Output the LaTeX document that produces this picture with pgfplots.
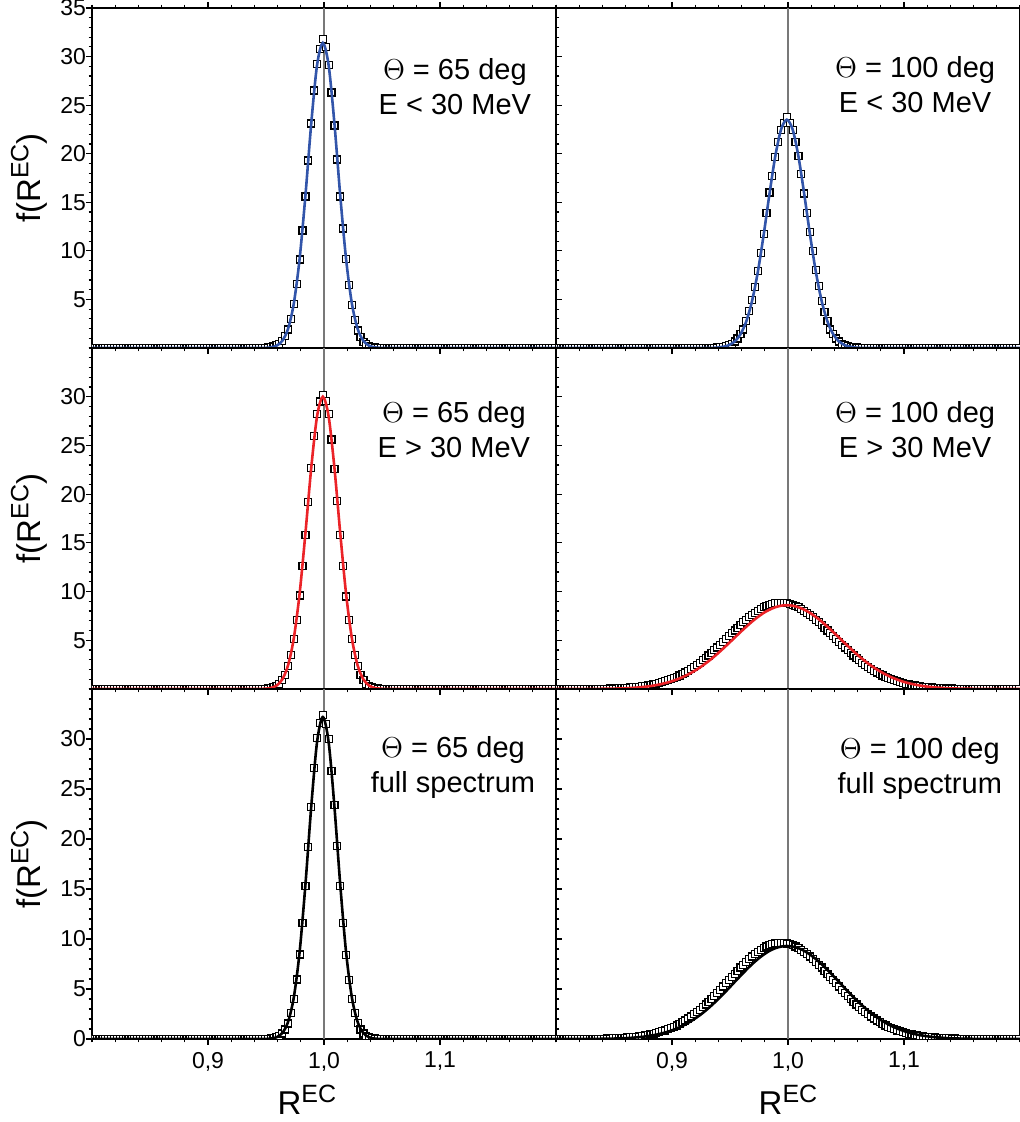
\documentclass[border=0pt]{standalone}
\usepackage{fontspec}
\setmainfont{Liberation Sans}
\usepackage{pgfplots}
\usepackage{pgfplotstable}
\pgfplotsset{compat=1.18}

\definecolor{fitblue}{RGB}{50,85,170}
\definecolor{fitred}{RGB}{235,35,40}
\definecolor{vline}{RGB}{120,120,120}

\newcommand{\REC}{R\raisebox{6.3pt}{\fontsize{12.5}{13}\selectfont EC}}

% histograms: bins of 0.0025, columns a..f = panels (65/100 deg) x (E<30, E>30, full)
\pgfplotstableread{
x a b c d e f
0.8015 0 0 0 0 0 0
0.8040 0 0 0 0 0 0
0.8065 0 0 0 0 0 0
0.8090 0 0 0 0 0 0
0.8115 0 0 0 0 0 0
0.8140 0 0 0 0 0 0
0.8165 0 0 0 0 0 0
0.8190 0 0 0 0 0 0
0.8215 0 0 0 0 0 0
0.8240 0 0 0 0 0 0
0.8265 0 0 0 0 0 0
0.8290 0 0 0 0 0 0
0.8315 0 0 0 0 0 0
0.8340 0 0 0 0.02 0 0.02
0.8365 0 0 0 0.02 0 0.02
0.8390 0 0 0 0.03 0 0.03
0.8415 0 0 0 0.03 0 0.03
0.8440 0 0 0 0.04 0 0.04
0.8465 0 0 0 0.05 0 0.05
0.8490 0 0 0 0.05 0 0.06
0.8515 0 0 0 0.06 0 0.07
0.8540 0 0 0 0.08 0 0.08
0.8565 0 0 0 0.09 0 0.10
0.8590 0 0 0 0.11 0 0.12
0.8615 0 0 0 0.13 0 0.14
0.8640 0 0 0 0.15 0 0.16
0.8665 0 0 0 0.17 0 0.19
0.8690 0 0 0 0.20 0 0.22
0.8715 0 0 0 0.23 0 0.25
0.8740 0 0 0 0.27 0 0.29
0.8765 0 0 0 0.31 0 0.34
0.8790 0 0 0 0.36 0 0.39
0.8815 0 0 0 0.41 0 0.45
0.8840 0 0 0 0.47 0 0.51
0.8865 0 0 0 0.54 0 0.59
0.8890 0 0 0 0.61 0 0.67
0.8915 0 0 0 0.70 0 0.76
0.8940 0 0 0 0.79 0 0.85
0.8965 0 0 0 0.89 0 0.96
0.8990 0 0 0 1.00 0 1.08
0.9015 0 0 0 1.12 0 1.21
0.9040 0 0 0 1.25 0 1.35
0.9065 0 0 0 1.39 0 1.51
0.9090 0 0 0 1.54 0 1.67
0.9115 0 0 0 1.70 0 1.85
0.9140 0 0 0 1.88 0 2.04
0.9165 0 0 0 2.07 0 2.24
0.9190 0 0 0 2.27 0 2.46
0.9215 0 0 0 2.48 0 2.69
0.9240 0 0 0 2.70 0 2.93
0.9265 0 0 0 2.94 0 3.19
0.9290 0 0 0 3.18 0 3.45
0.9315 0 0 0 3.44 0 3.73
0.9340 0 0 0 3.70 0 4.02
0.9365 0 0.02 0 3.98 0 4.31
0.9390 0 0.04 0 4.26 0 4.62
0.9415 0 0.07 0 4.54 0 4.93
0.9440 0 0.11 0 4.83 0 5.24
0.9465 0 0.18 0 5.13 0 5.56
0.9490 0.02 0.28 0.02 5.42 0 5.88
0.9515 0.04 0.44 0.05 5.72 0.02 6.20
0.9540 0.08 0.66 0.09 6.01 0.04 6.52
0.9565 0.15 0.97 0.18 6.30 0.08 6.83
0.9590 0.27 1.40 0.32 6.58 0.16 7.14
0.9615 0.45 1.90 0.55 6.85 0.30 7.43
0.9640 0.75 2.80 0.92 7.12 0.55 7.72
0.9665 1.20 3.80 1.45 7.37 0.95 7.99
0.9690 1.90 4.90 2.40 7.61 1.55 8.25
0.9715 3.00 6.30 3.50 7.83 2.60 8.49
0.9740 4.50 7.90 5.10 8.03 4.00 8.71
0.9765 6.60 9.80 7.10 8.22 5.95 8.91
0.9790 9.10 11.7 9.60 8.38 8.45 9.09
0.9815 12.1 13.9 12.6 8.52 11.6 9.24
0.9840 15.6 16.0 15.8 8.64 15.3 9.37
0.9865 19.3 17.7 19.2 8.73 19.2 9.47
0.9890 23.1 19.7 22.7 8.80 23.2 9.54
0.9915 26.5 21.2 25.95 8.84 27.1 9.59
0.9940 29.2 22.4 28.25 8.85 30.1 9.60
0.9965 30.8 23.2 29.5 8.84 31.6 9.59
0.9990 31.8 23.8 30.2 8.80 32.4 9.54
1.0015 31.0 23.2 29.6 8.73 31.5 9.47
1.0040 29.1 22.4 28.25 8.64 30.0 9.37
1.0065 26.3 21.2 25.6 8.52 26.8 9.24
1.0090 22.9 19.8 22.6 8.38 23.4 9.09
1.0115 19.4 17.9 19.3 8.22 19.3 8.91
1.0140 15.6 15.9 15.8 8.03 15.3 8.71
1.0165 12.3 13.9 12.6 7.83 11.6 8.49
1.0190 9.2 11.9 9.5 7.61 8.4 8.25
1.0215 6.5 10.0 7.05 7.37 5.9 7.99
1.0240 4.4 8.0 5.1 7.12 4.0 7.72
1.0265 2.9 6.4 3.45 6.85 2.6 7.43
1.0290 1.8 4.8 2.35 6.58 1.6 7.14
1.0315 1.1 3.7 1.4 6.30 0.95 6.83
1.0340 0.65 2.8 0.9 6.01 0.55 6.52
1.0365 0.37 1.9 0.55 5.72 0.3 6.20
1.0390 0.2 1.4 0.32 5.42 0.16 5.88
1.0415 0.1 0.97 0.18 5.13 0.08 5.56
1.0440 0.05 0.66 0.09 4.83 0.04 5.24
1.0465 0.02 0.44 0.05 4.54 0.02 4.93
1.0490 0 0.28 0.02 4.26 0 4.62
1.0515 0 0.18 0 3.98 0 4.31
1.0540 0 0.11 0 3.70 0 4.02
1.0565 0 0.07 0 3.44 0 3.73
1.0590 0 0.04 0 3.18 0 3.45
1.0615 0 0.02 0 2.94 0 3.19
1.0640 0 0 0 2.70 0 2.93
1.0665 0 0 0 2.48 0 2.69
1.0690 0 0 0 2.27 0 2.46
1.0715 0 0 0 2.07 0 2.24
1.0740 0 0 0 1.88 0 2.04
1.0765 0 0 0 1.70 0 1.85
1.0790 0 0 0 1.54 0 1.67
1.0815 0 0 0 1.39 0 1.51
1.0840 0 0 0 1.25 0 1.35
1.0865 0 0 0 1.12 0 1.21
1.0890 0 0 0 1.00 0 1.08
1.0915 0 0 0 0.89 0 0.96
1.0940 0 0 0 0.79 0 0.85
1.0965 0 0 0 0.70 0 0.76
1.0990 0 0 0 0.61 0 0.67
1.1015 0 0 0 0.54 0 0.59
1.1040 0 0 0 0.47 0 0.51
1.1065 0 0 0 0.41 0 0.45
1.1090 0 0 0 0.36 0 0.39
1.1115 0 0 0 0.31 0 0.34
1.1140 0 0 0 0.27 0 0.29
1.1165 0 0 0 0.23 0 0.25
1.1190 0 0 0 0.20 0 0.22
1.1215 0 0 0 0.17 0 0.19
1.1240 0 0 0 0.15 0 0.16
1.1265 0 0 0 0.13 0 0.14
1.1290 0 0 0 0.11 0 0.12
1.1315 0 0 0 0.09 0 0.10
1.1340 0 0 0 0.08 0 0.08
1.1365 0 0 0 0.06 0 0.07
1.1390 0 0 0 0.05 0 0.06
1.1415 0 0 0 0.05 0 0.05
1.1440 0 0 0 0.04 0 0.04
1.1465 0 0 0 0.03 0 0.03
1.1490 0 0 0 0.03 0 0.03
1.1515 0 0 0 0.02 0 0.02
1.1540 0 0 0 0.02 0 0.02
1.1565 0 0 0 0 0 0
1.1590 0 0 0 0 0 0
1.1615 0 0 0 0 0 0
1.1640 0 0 0 0 0 0
1.1665 0 0 0 0 0 0
1.1690 0 0 0 0 0 0
1.1715 0 0 0 0 0 0
1.1740 0 0 0 0 0 0
1.1765 0 0 0 0 0 0
1.1790 0 0 0 0 0 0
1.1815 0 0 0 0 0 0
1.1840 0 0 0 0 0 0
1.1865 0 0 0 0 0 0
1.1890 0 0 0 0 0 0
1.1915 0 0 0 0 0 0
1.1940 0 0 0 0 0 0
1.1965 0 0 0 0 0 0
1.1990 0 0 0 0 0 0
}\datatab

% fitted curves, every second bin
\pgfplotstableread{
x fa fb fc fd fe ff
0.7990 0 0 0 0 0 0
0.8040 0 0 0 0 0 0
0.8090 0 0 0 0 0 0
0.8140 0 0 0 0 0 0
0.8190 0 0 0 0 0 0
0.8240 0 0 0 0 0 0
0.8290 0 0 0 0 0 0
0.8340 0 0 0 0 0 0
0.8390 0 0 0 0.02 0 0.02
0.8440 0 0 0 0.03 0 0.03
0.8490 0 0 0 0.04 0 0.04
0.8540 0 0 0 0.05 0 0.06
0.8590 0 0 0 0.07 0 0.08
0.8640 0 0 0 0.10 0 0.11
0.8690 0 0 0 0.14 0 0.16
0.8740 0 0 0 0.20 0 0.21
0.8790 0 0 0 0.26 0 0.29
0.8840 0 0 0 0.35 0 0.38
0.8890 0 0 0 0.46 0 0.50
0.8940 0 0 0 0.60 0 0.65
0.8990 0 0 0 0.76 0 0.83
0.9040 0 0 0 0.97 0 1.05
0.9090 0 0 0 1.21 0 1.31
0.9140 0 0 0 1.50 0 1.62
0.9190 0 0 0 1.83 0 1.98
0.9240 0 0 0 2.20 0 2.38
0.9290 0 0 0 2.63 0 2.84
0.9340 0 0.01 0 3.09 0 3.35
0.9390 0 0.04 0 3.60 0 3.89
0.9440 0 0.12 0 4.14 0 4.47
0.9490 0.01 0.29 0.03 4.70 0 5.08
0.9540 0.06 0.67 0.10 5.27 0.04 5.70
0.9590 0.23 1.41 0.34 5.84 0.17 6.31
0.9640 0.73 2.73 0.98 6.39 0.59 6.91
0.9690 1.97 4.84 2.42 6.92 1.70 7.48
0.9740 4.6 7.84 5.23 7.39 4.18 7.99
0.9790 9.2 11.64 9.81 7.81 8.72 8.44
0.9840 15.7 15.83 16.0 8.14 15.45 8.81
0.9890 23.1 19.72 22.69 8.39 23.23 9.08
0.9940 29.1 22.49 27.97 8.55 29.68 9.24
0.9990 31.4 23.5 30.0 8.60 32.2 9.30
1.0040 29.1 22.49 27.97 8.55 29.68 9.24
1.0090 23.1 19.72 22.69 8.39 23.23 9.08
1.0140 15.7 15.83 16.0 8.14 15.45 8.81
1.0190 9.2 11.64 9.81 7.81 8.72 8.44
1.0240 4.6 7.84 5.23 7.39 4.18 7.99
1.0290 1.97 4.84 2.42 6.92 1.70 7.48
1.0340 0.73 2.73 0.98 6.39 0.59 6.91
1.0390 0.23 1.41 0.34 5.84 0.17 6.31
1.0440 0.06 0.67 0.10 5.27 0.04 5.70
1.0490 0.01 0.29 0.03 4.70 0 5.08
1.0540 0 0.12 0 4.14 0 4.47
1.0590 0 0.04 0 3.60 0 3.89
1.0640 0 0.01 0 3.09 0 3.35
1.0690 0 0 0 2.63 0 2.84
1.0740 0 0 0 2.20 0 2.38
1.0790 0 0 0 1.83 0 1.98
1.0840 0 0 0 1.50 0 1.62
1.0890 0 0 0 1.21 0 1.31
1.0940 0 0 0 0.97 0 1.05
1.0990 0 0 0 0.76 0 0.83
1.1040 0 0 0 0.60 0 0.65
1.1090 0 0 0 0.46 0 0.50
1.1140 0 0 0 0.35 0 0.38
1.1190 0 0 0 0.26 0 0.29
1.1240 0 0 0 0.20 0 0.21
1.1290 0 0 0 0.14 0 0.16
1.1340 0 0 0 0.10 0 0.11
1.1390 0 0 0 0.07 0 0.08
1.1440 0 0 0 0.05 0 0.06
1.1490 0 0 0 0.04 0 0.04
1.1540 0 0 0 0.03 0 0.03
1.1590 0 0 0 0.02 0 0.02
1.1640 0 0 0 0 0 0
1.1690 0 0 0 0 0 0
1.1740 0 0 0 0 0 0
1.1790 0 0 0 0 0 0
1.1840 0 0 0 0 0 0
1.1890 0 0 0 0 0 0
1.1940 0 0 0 0 0 0
1.2010 0 0 0 0 0 0
}\fittab

\pgfplotsset{
  panel/.style={
    scale only axis, width=232pt,
    xmin=0.8, xmax=1.2, ymin=0, ymax=35,
    axis line style={line width=0.9pt},
    tick style={line width=0.6pt, black},
    major tick length=3pt, minor tick length=1.7pt,
    tick align=outside,
    xtick={0.9,1.0,1.1},
    minor xtick={0.8,0.82,...,1.2},
    xtick pos=left,
    xticklabels={},
    clip marker paths=true,
    tick label style={font=\fontsize{11.5}{13}\selectfont},
    yticklabel style={xshift=3.5pt},
    /pgf/number format/assume math mode=true,
  },
  leftpanel/.style={panel,
    ytick pos=both, yticklabel pos=left,
    minor ytick={0,1,...,35},
    ylabel={f(\REC)},
    ylabel style={at={(axis description cs:-0.135,0.5)}, anchor=center,
      font=\fontsize{16.5}{18}\selectfont},
  },
  rightpanel/.style={panel, ytick=\empty},
  bottomrow/.style={xticklabels={{0,9},{1,0},{1,1}},
    xlabel={\REC},
    xlabel style={font=\fontsize{16.5}{18}\selectfont}},
  hist/.style={only marks, mark=square*, mark size=1.75pt,
    mark options={fill=white, draw=black, line width=0.6pt}},
  fit/.style={no marks, smooth, line width=1.3pt},
  zero/.style={no marks, line width=0.6pt, color=vline},
}
\tikzset{lbl/.style={align=center, font=\fontsize{14.5}{17.5}\selectfont}}

\begin{document}
\begin{tikzpicture}
\path[use as bounding box] (-46pt,-41.5pt) rectangle (464pt,519.5pt);

% top row
\begin{axis}[leftpanel, at={(0pt,345.5pt)}, anchor=south west, height=170pt,
  xtick pos=both, ytick={5,10,...,35}]
  \addplot[zero] coordinates {(1,0) (1,35)};
  \addplot[hist] table[x=x, y=a] {\datatab};
  \addplot[fit, fitblue] table[x=x, y=fa] {\fittab};
  \node[lbl] at (rel axis cs:0.782,0.77) {$\Theta$ = 65 deg\\E < 30 MeV};
\end{axis}
\begin{axis}[rightpanel, at={(232pt,345.5pt)}, anchor=south west, height=170pt,
  xtick pos=both]
  \addplot[zero] coordinates {(1,0) (1,35)};
  \addplot[hist] table[x=x, y=b] {\datatab};
  \addplot[fit, fitblue] table[x=x, y=fb] {\fittab};
  \node[lbl] at (rel axis cs:0.774,0.776) {$\Theta$ = 100 deg\\E < 30 MeV};
\end{axis}

% middle row
\begin{axis}[leftpanel, at={(0pt,175pt)}, anchor=south west, height=170.5pt,
  ytick={5,10,...,30}]
  \addplot[zero] coordinates {(1,0) (1,35)};
  \addplot[hist] table[x=x, y=c] {\datatab};
  \addplot[fit, fitred] table[x=x, y=fc] {\fittab};
  \node[lbl] at (rel axis cs:0.78,0.76) {$\Theta$ = 65 deg\\E > 30 MeV};
\end{axis}
\begin{axis}[rightpanel, at={(232pt,175pt)}, anchor=south west, height=170.5pt]
  \addplot[zero] coordinates {(1,0) (1,35)};
  \addplot[hist] table[x=x, y=d] {\datatab};
  \addplot[fit, fitred] table[x=x, y=fd] {\fittab};
  \node[lbl] at (rel axis cs:0.774,0.76) {$\Theta$ = 100 deg\\E > 30 MeV};
\end{axis}

% bottom row
\begin{axis}[leftpanel, bottomrow, at={(0pt,0pt)}, anchor=south west, height=175pt,
  ytick={0,5,...,30}, xlabel style={at={(ticklabel cs:0.463)}}]
  \addplot[zero] coordinates {(1,0) (1,35)};
  \addplot[hist] table[x=x, y=e] {\datatab};
  \addplot[fit, black] table[x=x, y=fe] {\fittab};
  \node[lbl] at (rel axis cs:0.778,0.776) {$\Theta$ = 65 deg\\full spectrum};
\end{axis}
\begin{axis}[rightpanel, bottomrow, at={(232pt,0pt)}, anchor=south west, height=175pt]
  \addplot[zero] coordinates {(1,0) (1,35)};
  \addplot[hist] table[x=x, y=f] {\datatab};
  \addplot[fit, black] table[x=x, y=ff] {\fittab};
  \node[lbl] at (rel axis cs:0.784,0.774) {$\Theta$ = 100 deg\\full spectrum};
\end{axis}
\end{tikzpicture}
\end{document}
